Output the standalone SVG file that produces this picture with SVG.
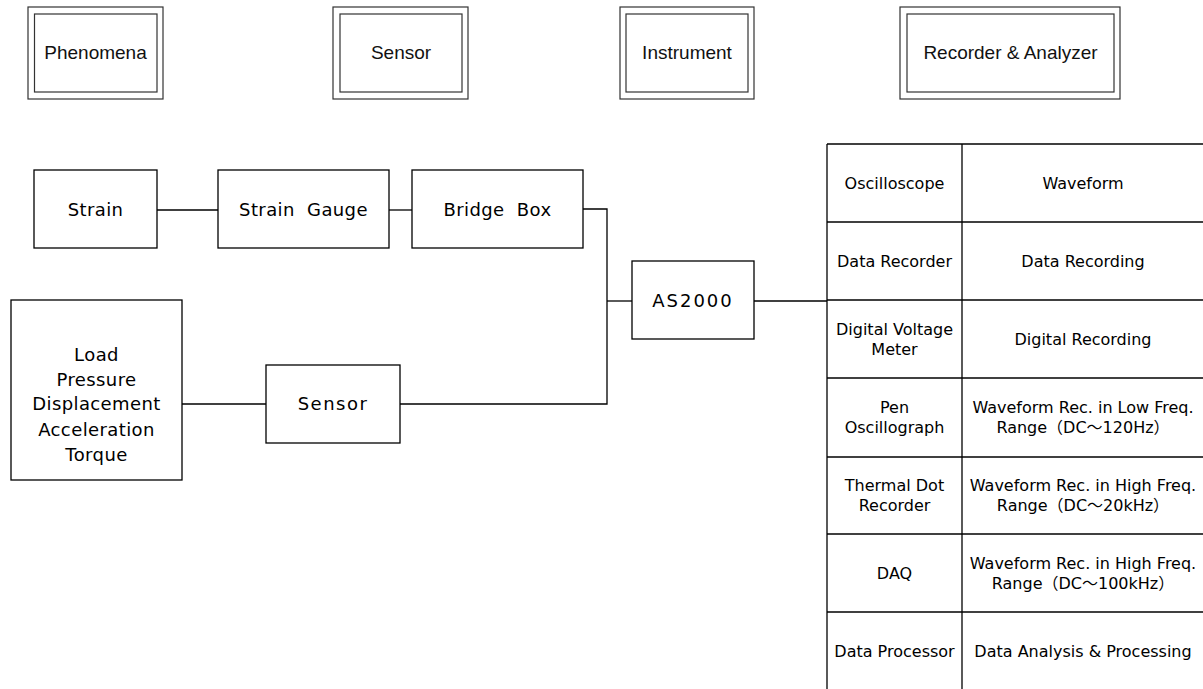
<svg xmlns="http://www.w3.org/2000/svg" width="1203" height="689" viewBox="0 0 1203 689">
<style>
.box{fill:#fff;stroke:#000;stroke-width:1.3}
.hb{fill:#fff;stroke:#333;stroke-width:1.2}
.ln{fill:none;stroke:#000;stroke-width:1.3}
.h{font-family:"Liberation Sans",Arial,sans-serif;font-size:19px;fill:#111;text-anchor:middle}
.t{font-family:"DejaVu Sans","Noto Sans CJK JP",sans-serif;font-size:18px;letter-spacing:0.4px;fill:#000;text-anchor:middle}
.s{font-family:"DejaVu Sans","Noto Sans CJK JP",sans-serif;font-size:16px;fill:#000;text-anchor:middle}
</style>
<rect width="1203" height="689" fill="#fff"/>
<g id="hdr-phenomena"><rect class="hb" x="28" y="7" width="135" height="92"/><rect class="hb" x="34.5" y="14" width="122.5" height="78"/><text class="h" x="95.5" y="59">Phenomena</text></g>
<g id="hdr-sensor"><rect class="hb" x="333" y="7" width="135" height="92"/><rect class="hb" x="340" y="14" width="122" height="78"/><text class="h" x="401" y="59">Sensor</text></g>
<g id="hdr-instrument"><rect class="hb" x="620" y="7" width="134" height="92"/><rect class="hb" x="626" y="14" width="122" height="78"/><text class="h" x="687" y="59">Instrument</text></g>
<g id="hdr-recorder"><rect class="hb" x="900" y="7" width="220" height="92"/><rect class="hb" x="907" y="14" width="207" height="78"/><text class="h" x="1010.5" y="59">Recorder &amp; Analyzer</text></g>

<g id="connectors">
<line class="ln" x1="157" y1="210" x2="218" y2="210"/>
<line class="ln" x1="389" y1="210" x2="412" y2="210"/>
<polyline class="ln" points="583,209 607,209 607,404 400,404"/>
<line class="ln" x1="607" y1="301" x2="632" y2="301"/>
<line class="ln" x1="182" y1="404" x2="266" y2="404"/>
<line class="ln" x1="754" y1="301" x2="827" y2="301"/>
</g>

<g id="strain"><rect class="box" x="34" y="170" width="123" height="78"/><text class="t" x="95.5" y="216">Strain</text></g>
<g id="strain-gauge"><rect class="box" x="218" y="170" width="171" height="78"/><text class="t" x="303.5" y="216" xml:space="preserve">Strain  Gauge</text></g>
<g id="bridge-box"><rect class="box" x="412" y="170" width="171" height="78"/><text class="t" x="497.5" y="216" xml:space="preserve">Bridge  Box</text></g>
<g id="as2000"><rect class="box" x="632" y="261" width="122" height="78"/><text class="t" x="693" y="307" style="letter-spacing:2px">AS2000</text></g>
<g id="phenomena-load"><rect class="box" x="11" y="300" width="171" height="180"/>
<text class="t" x="96.5" y="361">Load</text>
<text class="t" x="96.5" y="386">Pressure</text>
<text class="t" x="96.5" y="410">Displacement</text>
<text class="t" x="96.5" y="436">Acceleration</text>
<text class="t" x="96.5" y="461">Torque</text></g>
<g id="sensor"><rect class="box" x="266" y="365" width="134" height="78"/><text class="t" x="333" y="410" style="letter-spacing:1.5px">Sensor</text></g>

<g id="table">
<g class="ln">
<line x1="827" y1="144" x2="1203" y2="144"/>
<line x1="827" y1="222" x2="1203" y2="222"/>
<line x1="827" y1="300" x2="1203" y2="300"/>
<line x1="827" y1="378" x2="1203" y2="378"/>
<line x1="827" y1="457" x2="1203" y2="457"/>
<line x1="827" y1="534" x2="1203" y2="534"/>
<line x1="827" y1="612" x2="1203" y2="612"/>
<line x1="827" y1="144" x2="827" y2="689"/>
<line x1="962" y1="144" x2="962" y2="689"/>
</g>
<g id="row-oscilloscope"><text class="s" x="894.5" y="189">Oscilloscope</text><text class="s" x="1083" y="189">Waveform</text></g>
<g id="row-data-recorder"><text class="s" x="894.5" y="267">Data Recorder</text><text class="s" x="1083" y="267">Data Recording</text></g>
<g id="row-dvm"><text class="s" x="894.5" y="335">Digital Voltage</text><text class="s" x="894.5" y="355">Meter</text><text class="s" x="1083" y="345">Digital Recording</text></g>
<g id="row-pen"><text class="s" x="894.5" y="413">Pen</text><text class="s" x="894.5" y="433">Oscillograph</text><text class="s" x="1083" y="413">Waveform Rec. in Low Freq.</text><text class="s" x="1083" y="433">Range（DC～120Hz）</text></g>
<g id="row-thermal"><text class="s" x="894.5" y="491">Thermal Dot</text><text class="s" x="894.5" y="511">Recorder</text><text class="s" x="1083" y="491">Waveform Rec. in High Freq.</text><text class="s" x="1083" y="511">Range（DC～20kHz）</text></g>
<g id="row-daq"><text class="s" x="894.5" y="579">DAQ</text><text class="s" x="1083" y="569">Waveform Rec. in High Freq.</text><text class="s" x="1083" y="589">Range（DC～100kHz）</text></g>
<g id="row-processor"><text class="s" x="894.5" y="657">Data Processor</text><text class="s" x="1083" y="657">Data Analysis &amp; Processing</text></g>
</g>
</svg>
